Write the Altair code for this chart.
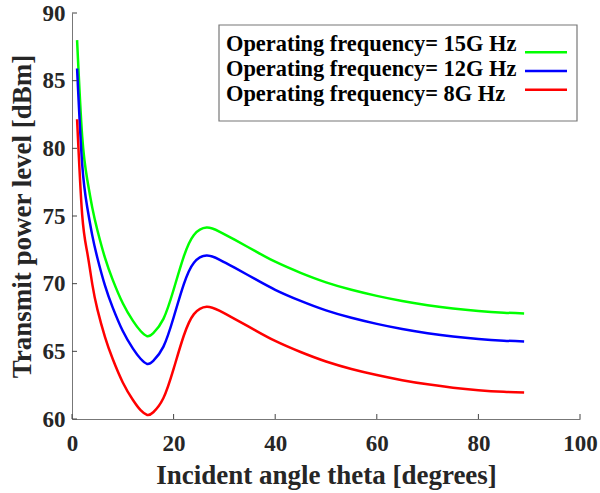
import altair as alt
import pandas as pd

theta = [1, 2, 3, 4, 5, 6.5, 8, 10, 12, 13.5, 14.8, 16, 18, 20, 22, 24, 26.5,
         29, 32, 36, 40, 45, 50, 55, 60, 65, 70, 75, 80, 85, 89]

p15 = [88.0, 80.9, 77.7, 75.6, 73.95, 71.9, 70.3, 68.55, 67.25, 66.5, 66.12,
       66.35, 67.4, 69.55, 72.0, 73.6, 74.15, 73.85, 73.25, 72.42, 71.62, 70.8,
       70.1, 69.55, 69.1, 68.72, 68.41, 68.16, 67.98, 67.86, 67.8]
p12 = [85.9, 78.85, 75.65, 73.55, 71.9, 69.85, 68.25, 66.5, 65.2, 64.45, 64.07,
       64.3, 65.35, 67.5, 69.95, 71.55, 72.08, 71.78, 71.18, 70.35, 69.55, 68.73,
       68.03, 67.48, 67.03, 66.65, 66.34, 66.09, 65.91, 65.79, 65.73]
p8 = [82.15, 75.1, 72.3, 69.95, 68.1, 66.05, 64.45, 62.7, 61.4, 60.65, 60.3,
      60.5, 61.55, 63.7, 66.15, 67.75, 68.3, 68.0, 67.4, 66.57, 65.77, 64.95,
      64.25, 63.7, 63.25, 62.87, 62.56, 62.31, 62.13, 62.01, 61.95]

series_names = ["Operating frequency= 15G Hz",
                "Operating frequency= 12G Hz",
                "Operating frequency= 8G Hz"]
series_colors = ["#00ff00", "#0000ff", "#ff0000"]

x_ticks = [0, 20, 40, 60, 80, 100]
y_ticks = [60, 65, 70, 75, 80, 85, 90]

rows = []
for name, vals in zip(series_names, [p15, p12, p8]):
    for t, v in zip(theta, vals):
        rows.append({"theta": t, "power": v, "series": name})
df = pd.DataFrame(rows)
leg = pd.DataFrame({"series": series_names})

FONT = "Liberation Serif"
W, H = 508, 406

xscale = alt.Scale(domain=[0, 100], nice=False)
yscale = alt.Scale(domain=[60, 90], nice=False, zero=False)
cscale = alt.Scale(domain=series_names, range=series_colors)

lines = alt.Chart(df).mark_line(strokeWidth=2.5, interpolate="natural").encode(
    x=alt.X("theta:Q", scale=xscale,
            axis=alt.Axis(title="Incident angle theta [degrees]", values=x_ticks,
                          ticks=False, labelFlush=False, labelPadding=13,
                          titlePadding=7)),
    y=alt.Y("power:Q", scale=yscale,
            axis=alt.Axis(title="Transmit power level [dBm]", values=y_ticks,
                          ticks=False, labelFlush=False, labelPadding=7,
                          titlePadding=6)),
    color=alt.Color("series:N", scale=cscale, legend=None),
)

xt = alt.Chart(pd.DataFrame({"v": x_ticks})).mark_rule(color="#444444").encode(
    x=alt.X("v:Q", scale=xscale), y=alt.value(H - 5), y2=alt.value(H))
yt = alt.Chart(pd.DataFrame({"v": y_ticks})).mark_rule(color="#444444").encode(
    y=alt.Y("v:Q", scale=yscale), x=alt.value(0), x2=alt.value(5))

main = alt.layer(lines, xt, yt)

box = alt.Chart(pd.DataFrame({"a": [0]})).mark_rect(
    fill="white", stroke="#777777", strokeWidth=1.2).encode(
    x=alt.value(147), x2=alt.value(505), y=alt.value(12), y2=alt.value(108))

leg_text = alt.Chart(leg).mark_text(
    align="left", baseline="alphabetic", font=FONT, fontWeight="bold",
    fontSize=22.4, color="black").encode(
    x=alt.value(154),
    y=alt.Y("series:N", sort=series_names,
            scale=alt.Scale(domain=series_names, range=[38, 88], padding=0),
            axis=None),
    text="series:N")

leg_line = alt.Chart(leg).mark_rule(strokeWidth=2.5).encode(
    x=alt.value(453), x2=alt.value(495),
    y=alt.Y("series:N", sort=series_names,
            scale=alt.Scale(domain=series_names, range=[30, 86], padding=0),
            axis=None),
    color=alt.Color("series:N", scale=cscale, legend=None))

chart = alt.layer(main, box, leg_text, leg_line).resolve_scale(
    y="independent").properties(
    width=W, height=H,
    autosize=alt.AutoSizeParams(type="none"),
    padding={"left": 72, "top": 13, "right": 20, "bottom": 74},
).configure_view(stroke=None).configure_axis(
    grid=False, domainColor="#777777", domainWidth=1,
    labelFont=FONT, labelFontWeight="bold", labelFontSize=23, labelColor="#262626",
    titleFont=FONT, titleFontWeight="bold", titleFontSize=27, titleColor="#262626",
)

chart.save("out.html", embed_options={"renderer": "svg", "actions": False})
